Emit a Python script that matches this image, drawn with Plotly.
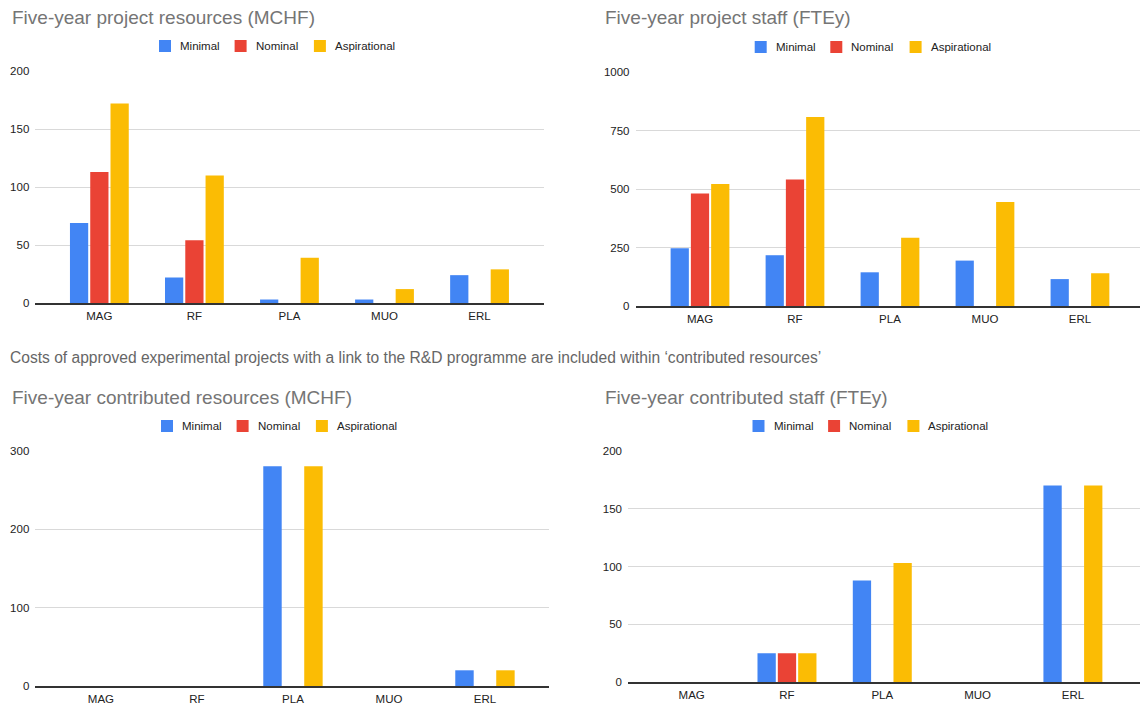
import plotly.graph_objects as go

# ---------------- data ----------------
categories = ["MAG", "RF", "PLA", "MUO", "ERL"]
series_names = ["Minimal", "Nominal", "Aspirational"]

proj_res_min = [69, 22, 3, 3, 24]
proj_res_nom = [113, 54, 0, 0, 0]
proj_res_asp = [172, 110, 39, 12, 29]

proj_staff_min = [247, 217, 144, 194, 115]
proj_staff_nom = [481, 541, 0, 0, 0]
proj_staff_asp = [521, 808, 292, 444, 140]

contr_res_min = [0, 0, 280, 0, 20]
contr_res_nom = [0, 0, 0, 0, 0]
contr_res_asp = [0, 0, 280, 0, 20]

contr_staff_min = [0, 25, 88, 0, 170]
contr_staff_nom = [0, 25, 0, 0, 0]
contr_staff_asp = [0, 25, 103, 0, 170]

titles = [
    "Five-year project resources (MCHF)",
    "Five-year project staff (FTEy)",
    "Five-year contributed resources (MCHF)",
    "Five-year contributed staff (FTEy)",
]
footnote = ("Costs of approved experimental projects with a link to the R&D programme "
            "are included within \u2018contributed resources\u2019")

y_max = [200, 1000, 300, 200]
y_dtick = [50, 250, 100, 50]

# ---------------- style / layout ----------------
W, H = 1140, 704
colors = ["#4285F4", "#EA4335", "#FBBC04"]
FONT = "Arial, Liberation Sans, sans-serif"

panel_values = [
    [proj_res_min, proj_res_nom, proj_res_asp],
    [proj_staff_min, proj_staff_nom, proj_staff_asp],
    [contr_res_min, contr_res_nom, contr_res_asp],
    [contr_staff_min, contr_staff_nom, contr_staff_asp],
]

# plot-area geometry in pixels: left, right, bottom(baseline), top
geom = [
    dict(x0=35.3, x1=543.6, yb=303.0, yt=71.0, xr=(-0.674, 4.674)),
    dict(x0=635.5, x1=1140.0, yb=306.0, yt=72.0, xr=(-0.679, 4.632)),
    dict(x0=35.3, x1=549.0, yb=686.0, yt=450.5, xr=(-0.684, 4.667)),
    dict(x0=628.0, x1=1140.0, yb=682.3, yt=450.7, xr=(-0.668, 4.704)),
]
title_pos = [(10, 17), (602.7, 17), (10, 397), (602.7, 397)]
legend_pos = [(159, 46), (754.7, 47), (161, 426), (752.5, 426)]
legend_offsets = [0, 75.6, 154.9]

fig = go.Figure()
layout_axes = {}
shapes = []
annotations = []

for i in range(4):
    g = geom[i]
    xa = "x" if i == 0 else f"x{i+1}"
    ya = "y" if i == 0 else f"y{i+1}"
    for s in range(3):
        fig.add_trace(go.Bar(
            x=categories, y=panel_values[i][s], name=series_names[s],
            marker=dict(color=colors[s], line=dict(width=0)),
            xaxis=xa, yaxis=ya, showlegend=False,
        ))
    xkey = "xaxis" if i == 0 else f"xaxis{i+1}"
    ykey = "yaxis" if i == 0 else f"yaxis{i+1}"
    layout_axes[xkey] = dict(
        domain=[g["x0"] / W, g["x1"] / W], anchor=ya, automargin=False,
        type="category", range=list(g["xr"]),
        showgrid=False, zeroline=False,
        showline=True, linecolor="#333333", linewidth=1.5,
        ticks="", tickfont=dict(family=FONT, size=11.5, color="#222222"),
        ticklabelstandoff=1, fixedrange=True,
    )
    layout_axes[ykey] = dict(
        domain=[1 - g["yb"] / H, 1 - g["yt"] / H], anchor=xa, automargin=False,
        range=[0, y_max[i]], dtick=y_dtick[i], tick0=0,
        showgrid=True, gridcolor="#d9d9d9", gridwidth=1,
        zeroline=False, showline=False, ticks="",
        tickfont=dict(family=FONT, size=11.5, color="#222222"),
        ticklabelstandoff=5, fixedrange=True,
    )
    # title
    tx, ty = title_pos[i]
    annotations.append(dict(
        text=titles[i], x=tx / W, y=1 - ty / H, xref="paper", yref="paper",
        xanchor="left", yanchor="middle", showarrow=False,
        font=dict(family=FONT, size=19, color="#757575"),
    ))
    # legend
    lx, ly = legend_pos[i]
    for s in range(3):
        sx = lx + legend_offsets[s]
        shapes.append(dict(
            type="rect", xref="paper", yref="paper",
            x0=sx / W, x1=(sx + 12) / W, y0=1 - (ly + 6) / H, y1=1 - (ly - 6) / H,
            fillcolor=colors[s], line=dict(width=0),
        ))
        annotations.append(dict(
            text=series_names[s], x=(sx + 19) / W, y=1 - ly / H,
            xref="paper", yref="paper", xanchor="left", yanchor="middle",
            showarrow=False, font=dict(family=FONT, size=11.5, color="#222222"),
        ))

annotations.append(dict(
    text=footnote, x=8 / W, y=1 - 357 / H, xref="paper", yref="paper",
    xanchor="left", yanchor="middle", showarrow=False,
    font=dict(family=FONT, size=15.6, color="#666666"),
))

fig.update_layout(
    template="none",
    width=W, height=H,
    margin=dict(l=0, r=0, t=0, b=0, pad=0, autoexpand=False),
    paper_bgcolor="white", plot_bgcolor="white",
    barmode="group", bargap=0.36, bargroupgap=0.1,
    shapes=shapes, annotations=annotations,
    font=dict(family=FONT),
    **layout_axes,
)

fig.write_html("out.html", config=dict(displayModeBar=False))
